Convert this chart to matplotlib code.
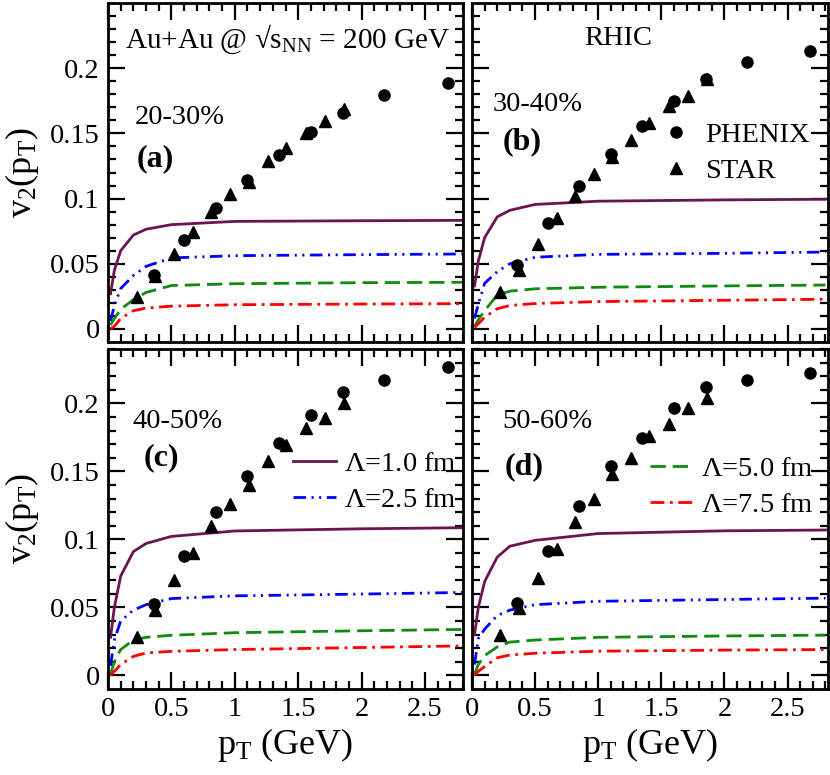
import numpy as np
import matplotlib
matplotlib.use('Agg')
import matplotlib.pyplot as plt

plt.rcParams['font.family'] = ['Liberation Serif', 'DejaVu Serif']
plt.rcParams['mathtext.fontset'] = 'custom'
plt.rcParams['mathtext.rm'] = 'Liberation Serif'
plt.rcParams['mathtext.it'] = 'Liberation Serif:italic'
plt.rcParams['mathtext.bf'] = 'Liberation Serif:bold'
plt.rcParams['lines.scale_dashes'] = False

# experimental data (PHENIX circles, STAR triangles), pT in GeV
phenix_pt = [0.36, 0.60, 0.85, 1.10, 1.35, 1.60, 1.85, 2.18, 2.68]
phenix_a = [0.0416, 0.0685, 0.0927, 0.1144, 0.1336, 0.1507, 0.1655, 0.1796, 0.1885]
phenix_b = [0.0489, 0.0810, 0.1096, 0.1344, 0.1560, 0.1750, 0.1914, 0.2046, 0.2130]
phenix_c = [0.0526, 0.0877, 0.1198, 0.1469, 0.1709, 0.1914, 0.2086, 0.2175, 0.2266]
phenix_d = [0.0531, 0.0914, 0.1242, 0.1543, 0.1746, 0.1968, 0.2123, 0.2175, 0.2220]

star_pt = [0.225, 0.37, 0.52, 0.67, 0.815, 0.965, 1.11, 1.26, 1.40, 1.56, 1.71, 1.86]
star_a = [0.0243, 0.0410, 0.0577, 0.0743, 0.0897, 0.1037, 0.1130, 0.1290, 0.1390, 0.1500, 0.1596, 0.1690]
star_b = [0.0281, 0.0456, 0.0653, 0.0850, 0.1020, 0.1185, 0.1316, 0.1450, 0.1577, 0.1710, 0.1785, 0.1920]
star_c = [0.0284, 0.0481, 0.0704, 0.0901, 0.1099, 0.1259, 0.1400, 0.1573, 0.1696, 0.1820, 0.1894, 0.2000]
star_d = [0.0296, 0.0494, 0.0716, 0.0926, 0.1128, 0.1296, 0.1480, 0.1598, 0.1760, 0.1850, 0.1968, 0.2042]

# model curves for Lambda = 1.0, 2.5, 5.0, 7.5 fm
curve_pt = [0.02, 0.05, 0.1, 0.2, 0.3, 0.5, 1.0, 2.0, 2.8]
lam10_a = [0.027, 0.045, 0.060, 0.072, 0.0765, 0.080, 0.0825, 0.083, 0.0833]
lam25_a = [0.006, 0.018, 0.031, 0.041, 0.048, 0.0545, 0.0562, 0.057, 0.0575]
lam50_a = [0.003, 0.008, 0.015, 0.0225, 0.028, 0.0333, 0.0347, 0.0355, 0.0358]
lam75_a = [0.000, 0.002, 0.008, 0.014, 0.016, 0.0175, 0.0186, 0.0191, 0.0194]

lam10_b = [0.033, 0.052, 0.070, 0.086, 0.091, 0.0955, 0.098, 0.099, 0.0995]
lam25_b = [0.008, 0.019, 0.035, 0.044, 0.050, 0.055, 0.0572, 0.058, 0.059]
lam50_b = [0.002, 0.007, 0.014, 0.026, 0.029, 0.0308, 0.032, 0.033, 0.0337]
lam75_b = [0.001, 0.004, 0.009, 0.0155, 0.018, 0.0195, 0.021, 0.022, 0.0228]

lam10_c = [0.028, 0.050, 0.073, 0.091, 0.097, 0.1022, 0.1062, 0.1078, 0.1086]
lam25_c = [0.007, 0.026, 0.040, 0.048, 0.052, 0.0565, 0.0585, 0.0598, 0.061]
lam50_c = [0.001, 0.010, 0.019, 0.026, 0.028, 0.0295, 0.0314, 0.0328, 0.0338]
lam75_c = [0.000, 0.003, 0.008, 0.014, 0.0165, 0.0177, 0.019, 0.0205, 0.0217]

lam10_d = [0.030, 0.050, 0.069, 0.087, 0.095, 0.0993, 0.1043, 0.1063, 0.1069]
lam25_d = [0.008, 0.027, 0.034, 0.044, 0.048, 0.052, 0.0545, 0.0558, 0.0568]
lam50_d = [0.001, 0.008, 0.0145, 0.021, 0.0245, 0.026, 0.028, 0.029, 0.0296]
lam75_d = [0.000, 0.003, 0.0065, 0.013, 0.015, 0.0163, 0.0178, 0.0186, 0.019]

centralities = ['20-30%', '30-40%', '40-50%', '50-60%']
panel_tags = ['(a)', '(b)', '(c)', '(d)']
lam_labels = [r'$\Lambda$=1.0 fm', r'$\Lambda$=2.5 fm', r'$\Lambda$=5.0 fm', r'$\Lambda$=7.5 fm']

c_purple = '#6b1550'
c_blue = '#0000ff'
c_green = '#108a10'
c_red = '#ff0000'
styles = [
    dict(color=c_purple, dashes=()),
    dict(color=c_blue, dashes=(9, 4, 1.5, 4, 1.5, 4)),
    dict(color=c_green, dashes=(11, 5)),
    dict(color=c_red, dashes=(10, 4, 2, 4)),
]

fig = plt.figure(figsize=(8.3, 7.75), dpi=100)
W, H = 830.0, 775.0
def add_ax(l, t, r, b):
    return fig.add_axes([l / W, 1 - b / H, (r - l) / W, (b - t) / H])

ax_a = add_ax(108, 3, 463, 342)
ax_b = add_ax(472, 3, 828, 342)
ax_c = add_ax(108, 349, 463, 689)
ax_d = add_ax(472, 349, 828, 689)
axes = [ax_a, ax_b, ax_c, ax_d]

phenix = [phenix_a, phenix_b, phenix_c, phenix_d]
star = [star_a, star_b, star_c, star_d]
curves = [[lam10_a, lam25_a, lam50_a, lam75_a],
          [lam10_b, lam25_b, lam50_b, lam75_b],
          [lam10_c, lam25_c, lam50_c, lam75_c],
          [lam10_d, lam25_d, lam50_d, lam75_d]]

fs = 20.5
for i, ax in enumerate(axes):
    lines = []
    for j, yv in enumerate(curves[i]):
        ln, = ax.plot(curve_pt, yv, lw=2.0, zorder=2, **styles[j])
        lines.append(ln)
    ph, = ax.plot(phenix_pt, phenix[i], 'o', color='k', ms=8, ls='none', zorder=4)
    st, = ax.plot(star_pt, star[i], '^', color='k', ms=8, ls='none', zorder=3)

    if i < 2:
        ax.set_ylim(-0.01, 0.25)
    else:
        ax.set_ylim(-0.01, 0.24)
    if i % 2 == 0:
        ax.set_xlim(0, 2.75)
    else:
        ax.set_xlim(0, 2.82)
    ax.set_xticks([0, 0.5, 1, 1.5, 2, 2.5])
    ax.set_xticks(np.arange(0, 2.81, 0.1), minor=True)
    ax.set_yticks([0, 0.05, 0.1, 0.15, 0.2])
    ax.set_yticks(np.arange(0, 0.241, 0.01), minor=True)
    ax.set_xticklabels(['0', '0.5', '1', '1.5', '2', '2.5'])
    ax.set_yticklabels(['0', '0.05', '0.1', '0.15', '0.2'])
    ax.tick_params(which='both', direction='in', top=True, right=True,
                   labelsize=fs, width=1.6)
    ax.tick_params(which='major', length=12, pad=6)
    ax.tick_params(which='minor', length=6)
    for sp in ax.spines.values():
        sp.set_linewidth(2.0)
    if i % 2 == 1:
        ax.tick_params(labelleft=False)
    else:
        ax.set_ylabel(r'v$_2$(p$_{\rm T}$)', fontsize=26)
        ax.yaxis.set_label_coords(-0.19, 0.5)
    if i < 2:
        ax.tick_params(labelbottom=False)
    else:
        ax.set_xlabel(r'p$_{\rm T}$ (GeV)', fontsize=26)
        ax.xaxis.set_label_coords(0.5, -0.11)

    if i == 1:
        ax.legend([ph, st], ['PHENIX', 'STAR'], loc='upper left',
                  bbox_to_anchor=(0.534, 0.648), frameon=False, fontsize=fs,
                  handlelength=1.0, handletextpad=0.5, labelspacing=0.35,
                  borderpad=0, borderaxespad=0, numpoints=1)
    if i == 2:
        ax.legend(lines[:2], lam_labels[:2], loc='upper left',
                  bbox_to_anchor=(0.521, 0.70), frameon=False, fontsize=fs,
                  handlelength=1.5, handletextpad=0.3, labelspacing=0.35,
                  borderpad=0, borderaxespad=0)
    if i == 3:
        ax.legend(lines[2:], lam_labels[2:], loc='upper left',
                  bbox_to_anchor=(0.5, 0.685), frameon=False, fontsize=fs,
                  handlelength=1.5, handletextpad=0.3, labelspacing=0.35,
                  borderpad=0, borderaxespad=0)

ax_a.text(0.048, 0.867, r'Au+Au @ √s$_{\rm NN}$ = 200 GeV', transform=ax_a.transAxes,
          fontsize=fs + 0.5, ha='left', va='baseline')
ax_b.text(0.315, 0.876, 'RHIC', transform=ax_b.transAxes, fontsize=fs,
          ha='left', va='baseline')

cent_pos = [(0.076, 0.643), (0.059, 0.681), (0.07, 0.768), (0.084, 0.768)]
tag_pos = [(0.082, 0.519), (0.087, 0.569), (0.099, 0.659), (0.093, 0.632)]
for i, ax in enumerate(axes):
    ax.text(cent_pos[i][0], cent_pos[i][1], centralities[i], transform=ax.transAxes,
            fontsize=fs, ha='left', va='baseline')
    ax.text(tag_pos[i][0], tag_pos[i][1], panel_tags[i], transform=ax.transAxes,
            fontsize=23, fontweight='bold', ha='left', va='baseline')

fig.savefig('out.png', dpi=100)
